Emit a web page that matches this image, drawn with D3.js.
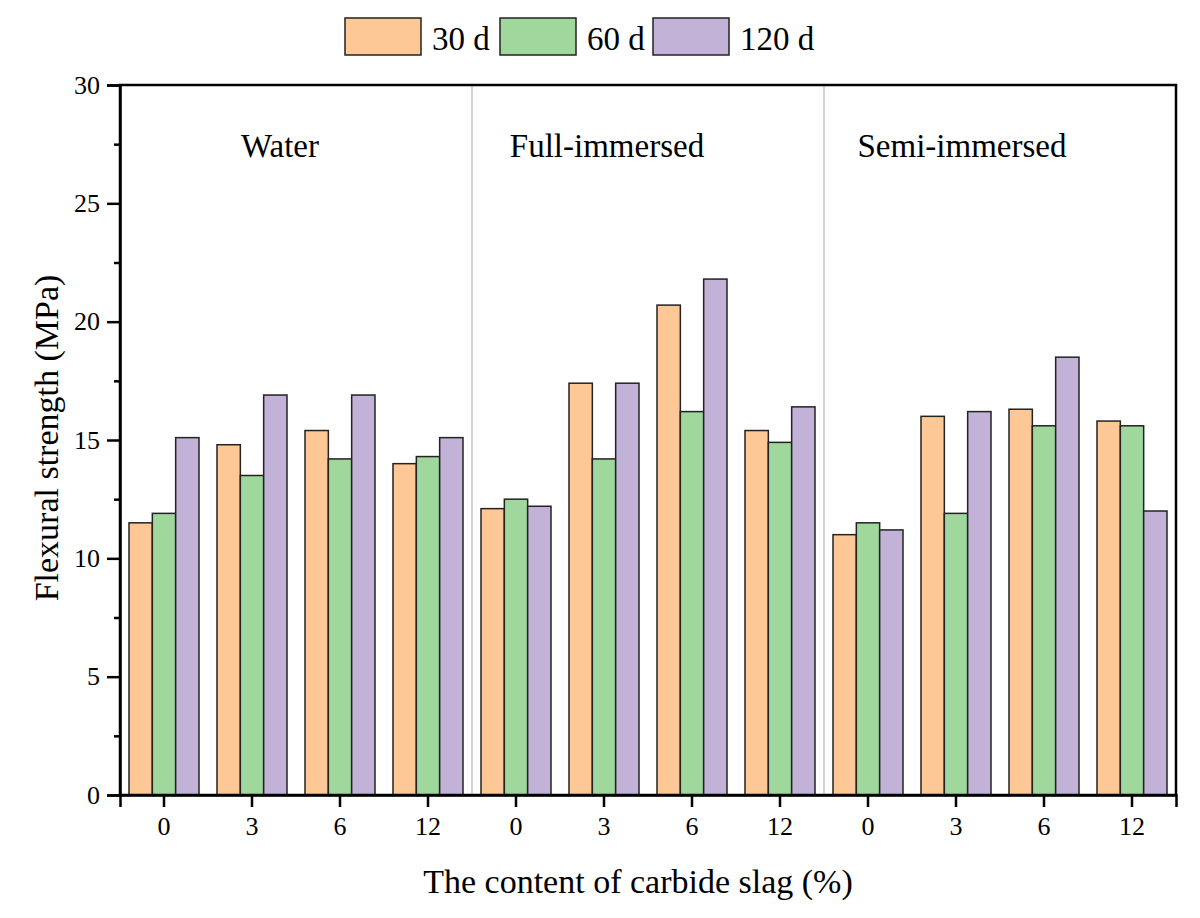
<!DOCTYPE html>
<html>
<head>
<meta charset="utf-8">
<script src="https://cdn.jsdelivr.net/npm/d3@7"></script>
<style>
  html, body { margin: 0; padding: 0; background: #fff; }
  svg { display: block; }
  svg text { font-family: 'Liberation Serif', 'Times New Roman', serif !important; fill: #000; }
</style>
</head>
<body>
<div id="chart"></div>
<script>
const contents = ['0', '3', '6', '12'];
const conditions = ['Water', 'Full-immersed', 'Semi-immersed'];
const seriesNames = ['30 d', '60 d', '120 d'];
const d30 = [11.5, 14.8, 15.4, 14.0, 12.1, 17.4, 20.7, 15.4, 11.0, 16.0, 16.3, 15.8];
const d60 = [11.9, 13.5, 14.2, 14.3, 12.5, 14.2, 16.2, 14.9, 11.5, 11.9, 15.6, 15.6];
const d120 = [15.1, 16.9, 16.9, 15.1, 12.2, 17.4, 21.8, 16.4, 11.2, 16.2, 18.5, 12.0];
const yMajorTicks = [0, 5, 10, 15, 20, 25, 30];

const colors = ['#fec896', '#9fd79c', '#c3b2d7'];
const width = 1200;
const height = 918;
const margin = { top: 85, right: 24, bottom: 123, left: 120 };
const innerWidth = width - margin.left - margin.right;
const innerHeight = height - margin.top - margin.bottom;

// one slot per (condition, content) pair
const slots = [];
conditions.forEach((c) => contents.forEach((k) => slots.push({ cond: c, content: k, key: c + '|' + k })));
const seriesData = [d30, d60, d120];

const svg = d3
  .select('#chart')
  .append('svg')
  .attr('width', width)
  .attr('height', height);

const x = d3
  .scaleBand()
  .domain(slots.map((d) => d.key))
  .range([0, innerWidth])
  .paddingInner(18 / 88)
  .paddingOuter(9 / 88);

const xs = d3.scaleBand().domain(seriesNames).range([0, x.bandwidth()]);

const y = d3.scaleLinear().domain([0, 30]).range([innerHeight, 0]);

const g = svg.append('g').attr('transform', `translate(${margin.left}, ${margin.top})`);

// separators between conditions
const step = x.step();
for (let i = 1; i < conditions.length; i++) {
  const sx = i * contents.length * step;
  g.append('line')
    .attr('x1', sx).attr('x2', sx)
    .attr('y1', 0).attr('y2', innerHeight)
    .attr('stroke', '#c4c4c4')
    .attr('stroke-width', 1.5);
}

// bars
const barData = [];
slots.forEach((s, i) => {
  seriesNames.forEach((name, j) => {
    barData.push({ key: s.key, name, value: seriesData[j][i], color: colors[j] });
  });
});

g.selectAll('rect.bar')
  .data(barData)
  .join('rect')
  .attr('class', 'bar')
  .attr('x', (d) => x(d.key) + xs(d.name))
  .attr('y', (d) => y(d.value))
  .attr('width', xs.bandwidth())
  .attr('height', (d) => innerHeight - y(d.value))
  .attr('fill', (d) => d.color)
  .attr('stroke', '#222')
  .attr('stroke-width', 1.5);

// condition labels
const labelX = [160, 487, 842];
conditions.forEach((c, i) => {
  g.append('text')
    .attr('x', labelX[i])
    .attr('y', 72)
    .attr('text-anchor', 'middle')
    .style('font-size', '33px')
    .text(c);
});

// frame
g.append('rect')
  .attr('x', 0).attr('y', 0)
  .attr('width', innerWidth).attr('height', innerHeight)
  .attr('fill', 'none')
  .attr('stroke', '#000')
  .attr('stroke-width', 2.5);

// y axis: minor ticks then major
const minorTicks = d3.range(2.5, 30, 5);
g.append('g')
  .call(d3.axisLeft(y).tickValues(minorTicks).tickSize(6).tickFormat(''))
  .call((a) => a.select('.domain').remove())
  .selectAll('line')
  .attr('stroke-width', 2.5);

const yAxis = g.append('g')
  .call(d3.axisLeft(y).tickValues(yMajorTicks).tickSize(13).tickPadding(7));
yAxis.select('.domain').attr('stroke-width', 2.5);
yAxis.selectAll('line').attr('stroke-width', 2.5);
yAxis.selectAll('text').style('font-size', '26px');

// x axis
const xAxis = g.append('g')
  .attr('transform', `translate(0, ${innerHeight})`)
  .call(d3.axisBottom(x).tickSize(12).tickPadding(10).tickFormat((k) => k.split('|')[1]));
xAxis.select('.domain').attr('stroke-width', 2.5);
xAxis.selectAll('line').attr('stroke-width', 2.5);
xAxis.selectAll('text').style('font-size', '26px');

// axis titles
svg.append('text')
  .attr('x', margin.left + innerWidth / 2 - 10)
  .attr('y', 893)
  .attr('text-anchor', 'middle')
  .style('font-size', '34px')
  .text('The content of carbide slag (%)');

svg.append('text')
  .attr('transform', 'translate(58, 438) rotate(-90)')
  .attr('text-anchor', 'middle')
  .style('font-size', '34px')
  .text('Flexural strength (MPa)');

// legend
const legendX = [345, 500, 653];
const legend = svg.append('g');
seriesNames.forEach((name, i) => {
  legend.append('rect')
    .attr('x', legendX[i])
    .attr('y', 18)
    .attr('width', 76)
    .attr('height', 37)
    .attr('fill', colors[i])
    .attr('stroke', '#222')
    .attr('stroke-width', 1.5);
  legend.append('text')
    .attr('x', legendX[i] + 87)
    .attr('y', 50)
    .style('font-size', '33px')
    .text(name);
});
</script>
</body>
</html>
